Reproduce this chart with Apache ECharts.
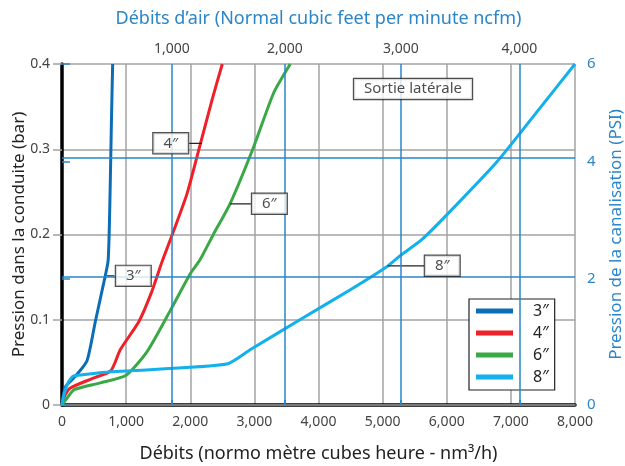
<!DOCTYPE html>
<html lang="fr">
<head>
<meta charset="UTF-8">
<title>Sortie latérale</title>
<script src="https://cdn.jsdelivr.net/npm/echarts@6/dist/echarts.min.js"></script>
<style>
  html, body { margin: 0; padding: 0; background: #fff; }
</style>
</head>
<body>
<div id="main" style="width: 625px; height: 466px;"></div>
<script type="text/javascript">
// courbes : [débit nm3/h, pression bar]
var pipe3 = [[0, 0], [50, 0.021], [200, 0.033], [390, 0.052], [520, 0.098], [650, 0.143], [720, 0.17], [750, 0.25], [770, 0.33], [790, 0.4]];
var pipe4 = [[0, 0], [50, 0.012], [130, 0.02], [470, 0.031], [760, 0.04], [910, 0.065], [1200, 0.098], [1400, 0.133], [1560, 0.168], [1720, 0.2], [1950, 0.248], [2160, 0.307], [2340, 0.358], [2500, 0.4]];
var pipe6 = [[0, 0], [80, 0.008], [190, 0.018], [600, 0.026], [1000, 0.035], [1330, 0.063], [1690, 0.111], [2000, 0.154], [2150, 0.17], [2360, 0.2], [2620, 0.236], [2990, 0.303], [3300, 0.366], [3560, 0.4]];
var pipe8 = [[0, 0], [30, 0.012], [100, 0.027], [180, 0.034], [750, 0.039], [1010, 0.04], [2570, 0.048], [2940, 0.065], [3710, 0.1], [4490, 0.135], [5060, 0.162], [5270, 0.175], [5610, 0.194], [6000, 0.223], [6780, 0.285], [7450, 0.348], [8000, 0.4]];

var seriesNames = ['3″', '4″', '6″', '8″'];
var seriesColors = ['#0a6db5', '#ee2028', '#3aa845', '#12b0ec'];

// axe du haut (ncfm) : position en nm3/h et libellé
var ncfmPos = [1715, 3477, 5283, 7132];
var ncfmLabels = ['1,000', '2,000', '3,000', '4,000'];
// axe de droite (PSI) : position en bar et libellé
var psiPos = [0, 0.148, 0.2854, 0.4];
var psiLabels = ['0', '2', '4', '6'];

// étiquettes : [x, y] de la boîte, trait de la courbe vers la boîte
var tags = [
    { text: '3″', box: [1112, 0.1515], from: [702, 0.1515], to: [816, 0.1515] },
    { text: '4″', box: [1696, 0.307], from: [2182, 0.307], to: [1984, 0.307] },
    { text: '6″', box: [3234, 0.236], from: [2623, 0.236], to: [2946, 0.236] },
    { text: '8″', box: [5930, 0.1633], from: [5079, 0.1633], to: [5645, 0.1633] }
];
var note = { text: 'Sortie latérale', pos: [5474, 0.3707] };

var FONT = 'Noto Sans';
var blue = '#2a86c8';
var gray = '#a3a3a3';

var myChart = echarts.init(document.getElementById('main'));

function fmt(v) {
    return v.toLocaleString('en-US');
}

var series = [];

// lignes bleues (repères ncfm / PSI)
series.push({
    name: 'repere',
    type: 'line',
    data: [],
    silent: true,
    z: 1,
    markLine: {
        silent: true,
        symbol: 'none',
        label: { show: false },
        lineStyle: { color: blue, width: 1.5, type: 'solid' },
        data: ncfmPos.map(function (v) { return { xAxis: v }; })
            .concat(psiPos.slice(1, 3).map(function (v) { return { yAxis: v }; }))
    }
});

[pipe3, pipe4, pipe6, pipe8].forEach(function (d, i) {
    series.push({
        name: seriesNames[i],
        type: 'line',
        data: d,
        smooth: 0.2,
        symbol: 'none',
        z: 3,
        lineStyle: { color: seriesColors[i], width: 3 },
        itemStyle: { color: seriesColors[i] }
    });
});

// traits des étiquettes
tags.forEach(function (t) {
    series.push({
        type: 'line',
        data: [t.from, t.to],
        symbol: 'none',
        silent: true,
        z: 4,
        lineStyle: { color: '#222', width: 1.2 }
    });
});

// boîtes des étiquettes
var boxLabel = {
    show: true,
    position: 'inside',
    formatter: function (p) { return p.data[2]; },
    color: '#222',
    fontFamily: FONT,
    fontSize: 15,
    backgroundColor: '#fff',
    borderColor: '#222',
    borderWidth: 1.2,
    padding: [3, 10, 2, 10]
};
series.push({
    type: 'scatter',
    data: tags.map(function (t) { return [t.box[0], t.box[1], t.text]; })
        .concat([[note.pos[0], note.pos[1], note.text]]),
    symbol: 'rect',
    symbolSize: 1,
    silent: true,
    z: 5,
    itemStyle: { color: 'rgba(0,0,0,0)' },
    label: boxLabel
});

var option = {
    animation: false,
    textStyle: { fontFamily: FONT },
    grid: { left: 62, right: 50, top: 64, bottom: 61, outerBoundsMode: 'none', containLabel: false },
    legend: {
        data: seriesNames,
        orient: 'vertical',
        left: 469,
        top: 299,
        icon: 'rect',
        itemWidth: 37,
        itemHeight: 5,
        itemGap: 6,
        padding: [4, 6, 5, 7],
        backgroundColor: '#fff',
        borderColor: '#222',
        borderWidth: 1.2,
        textStyle: { fontFamily: FONT, fontSize: 16, color: '#222', lineHeight: 16, padding: [0, 0, 0, 15] }
    },
    xAxis: [
        {
            type: 'value',
            position: 'bottom',
            min: 0,
            max: 8000,
            interval: 1000,
            name: 'Débits (normo mètre cubes heure - nm³/h)',
            nameLocation: 'middle',
            nameGap: 40,
            nameMoveOverlap: false,
            nameTextStyle: { fontFamily: FONT, fontSize: 18, color: '#222' },
            axisLine: { show: true, onZero: false, lineStyle: { color: '#000', width: 3.5 } },
            axisTick: { show: false },
            axisLabel: { color: '#444', fontSize: 14, margin: 10, formatter: fmt },
            splitLine: { show: true, showMinLine: false, lineStyle: { color: gray, width: 1.5 } }
        },
        {
            type: 'value',
            position: 'top',
            min: 0,
            max: 8000,
            name: 'Débits d’air (Normal cubic feet per minute ncfm)',
            nameLocation: 'middle',
            nameGap: 36,
            nameMoveOverlap: false,
            nameTextStyle: { fontFamily: FONT, fontSize: 18, color: blue },
            axisLine: { show: true, lineStyle: { color: gray, width: 1.5 } },
            axisTick: { show: true, customValues: ncfmPos, length: 5, lineStyle: { color: blue, width: 1.5 } },
            axisLabel: {
                color: '#444', fontSize: 14, margin: 8,
                customValues: ncfmPos,
                formatter: function (v) {
                    var k = ncfmPos.indexOf(v);
                    return k < 0 ? '' : ncfmLabels[k];
                }
            },
            splitLine: { show: false }
        }
    ],
    yAxis: [
        {
            type: 'value',
            position: 'left',
            min: 0,
            max: 0.4,
            interval: 0.1,
            name: 'Pression dans la conduite (bar)',
            nameLocation: 'middle',
            nameRotate: 90,
            nameGap: 34,
            nameMoveOverlap: false,
            nameTextStyle: { fontFamily: FONT, fontSize: 17, color: '#222' },
            axisLine: { show: true, onZero: false, lineStyle: { color: '#000', width: 3.5 } },
            axisTick: { show: true, length: 9, lineStyle: { color: gray, width: 1.5 } },
            axisLabel: { color: '#444', fontSize: 14, margin: 12 },
            splitLine: { show: true, showMinLine: false, lineStyle: { color: gray, width: 1.5 } }
        },
        {
            type: 'value',
            position: 'right',
            min: 0,
            max: 0.4,
            name: 'Pression de la canalisation (PSI)',
            nameLocation: 'middle',
            nameRotate: 90,
            nameGap: 33,
            nameMoveOverlap: false,
            nameTextStyle: { fontFamily: FONT, fontSize: 17, color: blue },
            axisLine: { show: false },
            axisTick: { show: true, customValues: psiPos, length: 8, lineStyle: { color: blue, width: 1.5 } },
            axisLabel: {
                color: blue, fontSize: 15, margin: 12,
                customValues: psiPos,
                formatter: function (v) {
                    var k = psiPos.indexOf(v);
                    return k < 0 ? '' : psiLabels[k];
                }
            },
            splitLine: { show: false }
        }
    ],
    series: series
};

myChart.setOption(option);
</script>
</body>
</html>
